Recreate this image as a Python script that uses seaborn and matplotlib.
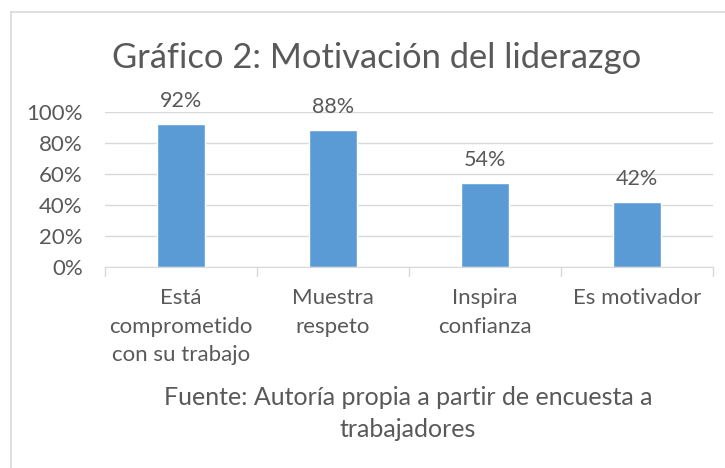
import matplotlib
matplotlib.use("Agg")
import matplotlib.pyplot as plt
import seaborn as sns
import pandas as pd
from matplotlib.lines import Line2D
from matplotlib.ticker import PercentFormatter

categorias = ["Está\ncomprometido\ncon su trabajo", "Muestra\nrespeto", "Inspira\nconfianza", "Es motivador"]
valores = [0.92, 0.88, 0.54, 0.42]
etiquetas = ["92%", "88%", "54%", "42%"]

df = pd.DataFrame({"categoria": categorias, "valor": valores})

sns.set_style("white")
plt.rcParams["font.family"] = ["Lato", "DejaVu Sans"]
gris = "#595959"

fig = plt.figure(figsize=(7.25, 4.68), dpi=100)
ax = fig.add_axes([0.1448, 0.4295, 0.8386, 0.3315])

sns.barplot(data=df, x="categoria", y="valor", color="#5B9BD5", width=0.31,
            saturation=1, ax=ax)

ax.set_xlim(-0.5, 3.5)
ax.set_ylim(0, 1)
ax.set_yticks([0, 0.2, 0.4, 0.6, 0.8, 1.0])
ax.yaxis.set_major_formatter(PercentFormatter(1.0, decimals=0))
ax.grid(axis="y", color="#d9d9d9", linewidth=1)
ax.set_axisbelow(True)
for s in ["top", "right", "left"]:
    ax.spines[s].set_visible(False)
ax.spines["bottom"].set_color("#d9d9d9")
ax.set_xlabel("")
ax.set_ylabel("")
ax.tick_params(axis="y", length=0, labelsize=16, labelcolor=gris, pad=16)
ax.tick_params(axis="x", length=0, labelsize=16, labelcolor=gris, pad=15)
for lbl in ax.get_xticklabels():
    lbl.set_linespacing(1.55)
    lbl.set_verticalalignment("top")

# marcas entre categorías
for xp in [-0.5, 0.5, 1.5, 2.5, 3.5]:
    ax.plot([xp, xp], [0, -0.055], color="#d9d9d9", lw=1, clip_on=False)

for i, (v, t) in enumerate(zip(valores, etiquetas)):
    ax.text(i, v + 0.15, t, ha="center", va="center", fontsize=15.5, color=gris)

fig.text(0.519, 0.877, "Gráfico 2: Motivación del liderazgo", ha="center", va="center",
         fontsize=24.8, color=gris)
fig.text(0.563, 0.116, "Fuente: Autoría propia a partir de encuesta a\ntrabajadores",
         ha="center", va="center", fontsize=18, color=gris, linespacing=1.45)

# marco del gráfico
fig.add_artist(Line2D([11 / 725, 1], [1 - 12 / 468, 1 - 12 / 468], color="#d9d9d9", lw=1.2))
fig.add_artist(Line2D([11 / 725, 11 / 725], [0, 1 - 12 / 468], color="#d9d9d9", lw=1.2))

fig.savefig("out.png", dpi=100)
